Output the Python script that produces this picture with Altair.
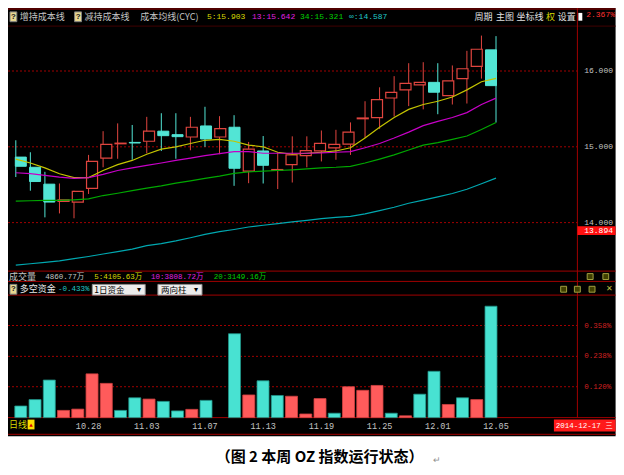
import altair as alt
import numpy as np
import pandas as pd

# ---------------- data ----------------
dates = ["10.21", "10.22", "10.23", "10.24", "10.27", "10.28", "10.29", "10.30", "10.31",
         "11.03", "11.04", "11.05", "11.06", "11.07", "11.10", "11.11", "11.12", "11.13",
         "11.14", "11.17", "11.18", "11.19", "11.20", "11.21", "11.24", "11.25", "11.26",
         "11.27", "11.28", "12.01", "12.02", "12.03", "12.04", "12.05"]
opens = [14.864, 14.730, 14.507, 14.280, 14.271, 14.452, 14.851, 15.040, 15.058, 15.073,
         15.206, 15.160, 15.129, 15.275, 15.129, 15.258, 14.678, 14.945, 14.690, 14.764,
         14.884, 14.945, 14.987, 15.035, 15.370, 15.386, 15.644, 15.751, 15.816, 15.850,
         15.674, 15.900, 16.060, 16.279]
highs = [15.086, 14.928, 14.670, 14.516, 14.421, 14.893, 15.206, 15.309, 15.288, 15.395,
         15.443, 15.443, 15.395, 15.528, 15.404, 15.417, 15.064, 15.142, 14.928, 15.138,
         15.138, 15.215, 15.224, 15.322, 15.601, 15.785, 15.932, 16.103, 16.116, 16.103,
         16.073, 16.266, 16.467, 16.460]
lows = [14.601, 14.421, 14.069, 14.121, 14.057, 14.378, 14.730, 14.842, 14.829, 14.915,
        14.944, 14.842, 14.954, 15.000, 14.902, 14.485, 14.520, 14.516, 14.443, 14.529,
        14.730, 14.807, 14.829, 14.893, 15.116, 15.237, 15.399, 15.537, 15.494, 15.430,
        15.558, 15.571, 15.900, 15.320]
closes = [14.743, 14.542, 14.271, 14.300, 14.413, 14.807, 15.031, 15.048, 15.050, 15.206,
          15.147, 15.134, 15.258, 15.103, 15.241, 14.717, 14.970, 14.756, 14.700, 14.893,
          14.949, 15.044, 15.031, 15.193, 15.380, 15.623, 15.717, 15.837, 15.850, 15.720,
          15.871, 16.030, 16.287, 15.807]

ma5 = [14.838, 14.786, 14.722, 14.645, 14.593, 14.593, 14.687, 14.764, 14.820, 14.902,
       14.970, 15.000, 15.044, 15.086, 15.099, 15.073, 15.022, 15.000, 14.928, 14.902,
       14.915, 14.928, 14.945, 14.987, 15.116, 15.258, 15.386, 15.494, 15.558, 15.601,
       15.657, 15.751, 15.858, 15.903]
ma13 = [14.658, 14.645, 14.623, 14.601, 14.584, 14.593, 14.636, 14.687, 14.722, 14.756,
        14.786, 14.820, 14.851, 14.884, 14.910, 14.936, 14.936, 14.915, 14.915, 14.915,
        14.915, 14.919, 14.928, 14.936, 14.987, 15.044, 15.116, 15.193, 15.279, 15.335,
        15.386, 15.451, 15.558, 15.642]
ma34 = [14.284, 14.288, 14.292, 14.292, 14.301, 14.314, 14.357, 14.387, 14.421, 14.456,
        14.485, 14.520, 14.550, 14.584, 14.614, 14.649, 14.670, 14.678, 14.687, 14.696,
        14.709, 14.722, 14.730, 14.743, 14.786, 14.838, 14.893, 14.958, 15.022, 15.056,
        15.099, 15.142, 15.228, 15.321]
ma_inf = [13.440, 13.457, 13.476, 13.496, 13.524, 13.553, 13.586, 13.617, 13.651, 13.696,
          13.722, 13.758, 13.800, 13.845, 13.880, 13.909, 13.942, 13.965, 13.987, 14.009,
          14.030, 14.052, 14.069, 14.082, 14.116, 14.159, 14.203, 14.255, 14.297, 14.340,
          14.384, 14.440, 14.513, 14.587]

# 多空资金 (signed, %)
fund_flow = [-0.045, -0.070, -0.146, 0.028, 0.033, 0.170, 0.133, -0.028, -0.077, 0.072,
             -0.063, -0.026, 0.032, -0.067, 0.000, -0.326, 0.088, -0.143, -0.086, 0.083,
             0.014, 0.074, -0.017, 0.120, 0.106, 0.125, -0.017, 0.007, -0.091, -0.180,
             0.051, -0.077, 0.070, -0.433]

price_ticks = [14, 15, 16]
flow_ticks = [0.120, 0.238, 0.358]
date_ticks = ["10.28", "11.03", "11.07", "11.13", "11.19", "11.25", "12.01", "12.05"]
marker_price = 13.894
top_pct = "2.367%"
volume_total = "4860.77万"
volume_ma = [("5", "4105.63万"), ("10", "3808.72万"), ("20", "3149.16万")]
current_date = "2014-12-17 三"
caption = "（图 2  本周 OZ 指数运行状态）"

# ---------------- styling / layout ----------------
W, H = 608, 459
CJK = "'Noto Sans CJK SC'"
MONO = "'Liberation Mono', 'Noto Sans CJK SC'"
GRAY = "#c4c4c4"
YEL, MAG, GRN, CYN = "#d8d800", "#e020e0", "#00d000", "#20c8c8"
RED = "#e0453f"
CY_FILL = "#52e5d5"
DRED = "#a00000"
MA_COLORS = ["#c4c400", "#c800c8", "#00a800", "#00a8b0"]


def px(x):
    return round((x - 2) * 0.98, 1)


def py(y):
    return round(y * 0.98, 1)


XS = alt.Scale(domain=[1, len(dates)], range=[px(10), px(500)], nice=False, zero=False)
PS = alt.Scale(domain=[14, 16], range=[py(219), py(64.3)], nice=False, zero=False)
FS = alt.Scale(domain=[0, 0.358], range=[py(418), py(324)], nice=False, zero=False)

one = pd.DataFrame({"a": [0]})


def box(x1, x2, y1, y2, fill, stroke=None):
    kw = dict(fill=fill)
    if stroke:
        kw.update(stroke=stroke, strokeWidth=1)
    return alt.Chart(one).mark_rect(**kw).encode(
        x=alt.value(px(x1)), x2=alt.value(px(x2)), y=alt.value(py(y1)), y2=alt.value(py(y2)))


def hline(y, x1, x2, color=DRED, width=1):
    return alt.Chart(one).mark_rule(color=color, strokeWidth=width).encode(
        x=alt.value(px(x1)), x2=alt.value(px(x2)), y=alt.value(py(y)))


def vline(x, y1, y2, color=DRED):
    return alt.Chart(one).mark_rule(color=color, strokeWidth=1).encode(
        x=alt.value(px(x)), y=alt.value(py(y1)), y2=alt.value(py(y2)))


def txt(s, x, y, color=GRAY, size=9, font=CJK, align="left", weight="normal"):
    return alt.Chart(pd.DataFrame({"t": [s]})).mark_text(
        align=align, baseline="middle", color=color, fontSize=size, font=font,
        fontWeight=weight).encode(x=alt.value(px(x)), y=alt.value(py(y)), text="t:N")


n = len(dates)
df = pd.DataFrame({"i": np.arange(1, n + 1), "date": dates, "open": opens, "high": highs,
                   "low": lows, "close": closes, "ma5": ma5, "ma13": ma13, "ma34": ma34,
                   "mainf": ma_inf})
df["dir"] = np.where(df["close"] >= df["open"], "up", "down")

flow = pd.DataFrame({"i": np.arange(1, n + 1), "v": np.abs(fund_flow),
                     "sgn": np.where(np.array(fund_flow) >= 0, "pos", "neg"), "z": 0.0})
flow = flow[flow["v"] > 0]

X = alt.X("i:Q", scale=XS, axis=None)

layers = []
# black panel
layers.append(box(2, 622, 0, 437, "#000000"))

# gridlines
layers.append(alt.Chart(pd.DataFrame({"v": price_ticks})).mark_rule(
    color=DRED, strokeDash=[2, 2], strokeWidth=1).encode(
    y=alt.Y("v:Q", scale=PS, axis=None), x=alt.value(px(2)), x2=alt.value(px(583))))
layers.append(alt.Chart(pd.DataFrame({"v": flow_ticks})).mark_rule(
    color=DRED, strokeDash=[2, 2], strokeWidth=1).encode(
    y=alt.Y("v:Q", scale=FS, axis=None), x=alt.value(px(2)), x2=alt.value(px(583))))

# separators
layers += [hline(1, 2, 622), hline(18.5, 2, 622, "#400000"), hline(268.5, 2, 622),
           hline(279, 2, 622), hline(293, 2, 622), hline(418, 2, 622), hline(435, 2, 622),
           vline(583, 0, 418)]

# candle wicks + bodies
up_f = "datum.dir == 'up'"
dn_f = "datum.dir == 'down'"
layers.append(alt.Chart(df).transform_filter(up_f).mark_rule(color=RED, strokeWidth=1).encode(
    x=X, y=alt.Y("low:Q", scale=PS, axis=None), y2="high:Q"))
layers.append(alt.Chart(df).transform_filter(dn_f).mark_rule(color=CY_FILL, strokeWidth=1).encode(
    x=X, y=alt.Y("low:Q", scale=PS, axis=None), y2="high:Q"))
layers.append(alt.Chart(df).transform_filter(up_f).mark_bar(
    size=11, fill="#000000", stroke=RED, strokeWidth=1.2).encode(
    x=X, y=alt.Y("open:Q", scale=PS, axis=None), y2="close:Q"))
layers.append(alt.Chart(df).transform_filter(dn_f).mark_bar(
    size=11, fill=CY_FILL, stroke=CY_FILL, strokeWidth=1).encode(
    x=X, y=alt.Y("open:Q", scale=PS, axis=None), y2="close:Q"))

# cost moving averages
for col, c in zip(["ma5", "ma13", "ma34", "mainf"], MA_COLORS):
    layers.append(alt.Chart(df).mark_line(color=c, strokeWidth=1.2).encode(
        x=X, y=alt.Y(f"{col}:Q", scale=PS, axis=None)))

# fund flow bars
layers.append(alt.Chart(flow).transform_filter("datum.sgn == 'pos'").mark_bar(
    size=12, fill="#ff5b5b", stroke="#d04040", strokeWidth=0.8).encode(
    x=X, y=alt.Y("v:Q", scale=FS, axis=None), y2="z:Q"))
layers.append(alt.Chart(flow).transform_filter("datum.sgn == 'neg'").mark_bar(
    size=12, fill="#48e2d2", stroke="#1f9488", strokeWidth=0.8).encode(
    x=X, y=alt.Y("v:Q", scale=FS, axis=None), y2="z:Q"))

# right axis labels
layers.append(alt.Chart(pd.DataFrame({"v": price_ticks})).transform_calculate(
    lab="format(datum.v, '.3f')").mark_text(
    align="left", baseline="middle", color=GRAY, fontSize=8, font=MONO).encode(
    y=alt.Y("v:Q", scale=PS, axis=None), x=alt.value(px(590)), text="lab:N"))
layers.append(alt.Chart(pd.DataFrame({"v": flow_ticks})).transform_calculate(
    lab="format(datum.v, '.3f') + '%'").mark_text(
    align="left", baseline="middle", color="#d02020", fontSize=7.5, font=MONO).encode(
    y=alt.Y("v:Q", scale=FS, axis=None), x=alt.value(px(590)), text="lab:N"))

# current price marker
mk = pd.DataFrame({"lo": [marker_price - 0.058], "hi": [marker_price + 0.058],
                   "p": [marker_price], "lab": [f"{marker_price:.3f}"]})
layers.append(alt.Chart(mk).mark_rect(fill="#ff1010").encode(
    x=alt.value(px(583)), x2=alt.value(px(622)),
    y=alt.Y("lo:Q", scale=PS, axis=None), y2="hi:Q"))
layers.append(alt.Chart(mk).mark_text(
    align="left", baseline="middle", color="#ffffff", fontSize=8, font=MONO).encode(
    x=alt.value(px(590)), y=alt.Y("p:Q", scale=PS, axis=None), text="lab:N"))

# date labels
dl = df[df["date"].isin(date_ticks)]
layers.append(alt.Chart(dl).mark_text(
    align="center", baseline="middle", color=GRAY, fontSize=8.5, font=MONO).encode(
    x=X, y=alt.value(py(426)), text="date:N"))

# header row
layers += [box(4, 11, 4, 14, "#e8d890", "#808080"), txt("?", 7.5, 9, "#202020", 8, MONO, "center", "bold"),
           txt("增持成本线", 14, 9),
           box(70, 77, 4, 14, "#e8d890", "#808080"), txt("?", 73.5, 9, "#202020", 8, MONO, "center", "bold"),
           txt("减持成本线", 80, 9),
           txt("成本均线(CYC)", 137, 9),
           txt(f"5:{ma5[-1]:.3f}", 205, 9, YEL, 8, MONO),
           txt(f"13:{ma13[-1]:.3f}", 251, 9, MAG, 8, MONO),
           txt(f"34:{ma34[-1]:.3f}", 300, 9, GRN, 8, MONO),
           txt(f"∞:{ma_inf[-1]:.3f}", 350, 9, CYN, 8, MONO),
           txt("周期", 478, 9, "#e0e0e0"), txt("主图", 500, 9, "#e0e0e0"),
           txt("坐标线", 521, 9, "#e0e0e0"), txt("权", 551, 9, YEL),
           txt("设置", 563, 9, "#e0e0e0"),
           box(584, 588, 5, 13, "#ffffff"),
           txt(top_pct, 592, 7, "#ff3030", 8, MONO)]

# volume info row
layers += [txt("成交量", 3, 274), txt(volume_total, 40, 274, GRAY, 7.5, MONO)]
vx = [90, 148, 212]
for (k, v), x0, c in zip(volume_ma, vx, [YEL, MAG, GRN]):
    layers.append(txt(f"{k}:{v}", x0, 274, c, 7.5, MONO))
layers += [box(593, 599, 271, 277, "#404000", "#a0a040"), box(609, 615, 271, 277, "#404000", "#a0a040")]

# 多空资金 row
layers += [box(4, 11, 282, 292, "#e8d890", "#808080"), txt("?", 7.5, 287, "#202020", 8, MONO, "center", "bold"),
           txt("多空资金", 14, 287, "#e8e8e8"),
           txt(f"{fund_flow[-1]:.3f}%", 53, 287, CYN, 7.5, MONO),
           box(88, 142, 282, 293, "#ececec", "#909090"), txt("1日资金", 90, 287.5, "#000000", 8.5),
           txt("▾", 136, 287.5, "#000000", 8, MONO, "center"),
           box(155, 200, 282, 293, "#ececec", "#909090"), txt("两向柱", 158, 287.5, "#000000", 8.5),
           txt("▾", 194, 287.5, "#000000", 8, MONO, "center"),
           box(566, 572, 284, 290, "#404000", "#a0a040"), box(580, 586, 284, 290, "#404000", "#a0a040"),
           box(595, 601, 284, 290, "#404000", "#a0a040"), txt("✕", 612, 287, "#c0c040", 8)]

# bottom strip
layers += [txt("日线", 3, 425, YEL, 9), box(22, 29, 420, 430, "#ffe000"),
           txt("▲", 25.5, 425.5, "#e00000", 6, MONO, "center"),
           box(559, 622, 420, 432, "#ff1a1a"),
           txt(current_date, 561, 426, "#ffffff", 7.5, MONO)]

# caption
layers += [txt(caption, 320, 458, "#000000", 15, CJK, "center", "bold"),
           txt("↵", 436, 461, "#909090", 9, CJK)]

chart = alt.layer(*layers).resolve_scale(x="independent", y="independent").properties(
    width=W, height=H, padding=0, background="#ffffff",
    autosize=alt.AutoSizeParams(type="none")
).configure_view(strokeWidth=0)

chart.save("out.html", embed_options={"renderer": "svg", "actions": False})
